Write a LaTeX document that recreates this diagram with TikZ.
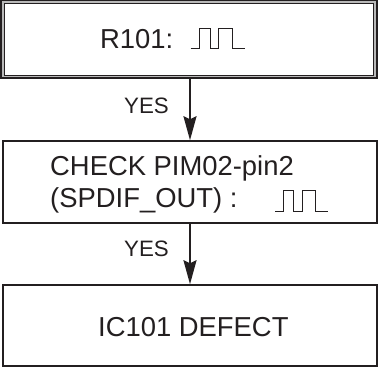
\documentclass[tikz,border=0pt]{standalone}
\usepackage{fontspec}
\setmainfont{Liberation Sans}
\usetikzlibrary{arrows.meta}
\definecolor{ink}{HTML}{231F20}
\tikzset{
  boxframe/.style={draw=ink, line width=1.5pt, fill=white, inner sep=0pt, rectangle},
  maintext/.style={anchor=base west, inner sep=0pt, text=ink, font=\fontsize{27.4}{31}\selectfont},
  yestext/.style={anchor=base west, inner sep=0pt, text=ink, font=\fontsize{22.3}{26}\selectfont},
  arr/.style={draw=ink, line width=2pt, -{Stealth[length=24pt, width=13pt, inset=3pt]}},
  wave/.style={draw=ink, line width=1pt}
}
\begin{document}
\begin{tikzpicture}[x=1pt,y=-1pt]
\useasboundingbox (0,0) rectangle (378,367);
% top box (double frame)
\node[boxframe, fill=gray!55, minimum width=376pt, minimum height=77.5pt] (topouter) at (189,39.25) {};
\node[draw=ink, line width=0.9pt, fill=white, inner sep=0pt, minimum width=369.5pt, minimum height=71.5pt] (top) at (188.75,39.25) {};
\node[maintext] (t1) at (100,48) {R101:};
\draw[wave] (190.7,48) -- (199,48) -- (199,28) -- (210,28) -- (210,48) -- (218,48) -- (218,28) -- (232,28) -- (232,48) -- (245,48);
% second box
\node[boxframe, minimum width=374pt, minimum height=82pt] (b2) at (190,182) {};
\node[maintext] (t2a) at (50,175) {CHECK PIM02-pin2};
\node[maintext] (t2b) at (50,207) {(SPDIF\_OUT) :};
\draw[wave] (275,211) -- (283,211) -- (283,190) -- (293,190) -- (293,211) -- (302,211) -- (302,190) -- (315,190) -- (315,211) -- (328,211);
% third box
\node[boxframe, minimum width=374pt, minimum height=81pt] (b3) at (190,325.5) {};
\node[maintext] (t3) at (98,336) {IC101 DEFECT};
% connectors
\draw[arr] (b2.north |- topouter.south) -- (b2.north);
\draw[arr] (b2.south) -- (b3.north);
\node[yestext] (y1) at (124,113) {YES};
\node[yestext] (y2) at (124,256.5) {YES};
\end{tikzpicture}
\end{document}
